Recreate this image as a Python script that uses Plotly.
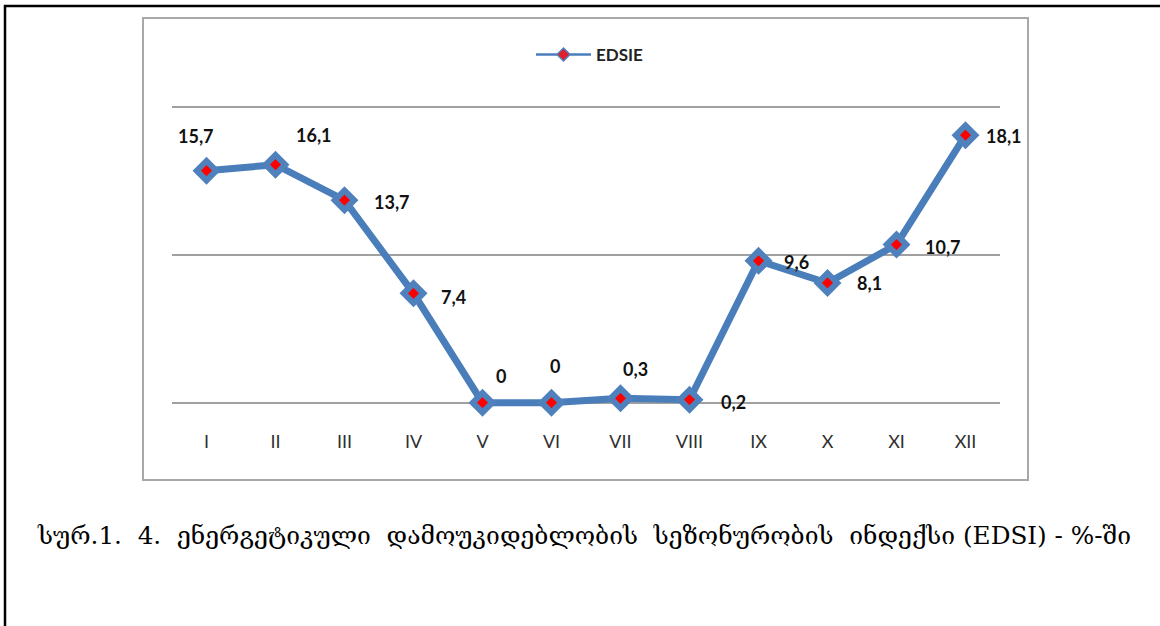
import plotly.graph_objects as go

months = ["I", "II", "III", "IV", "V", "VI", "VII", "VIII", "IX", "X", "XI", "XII"]
edsie = [15.7, 16.1, 13.7, 7.4, 0, 0, 0.3, 0.2, 9.6, 8.1, 10.7, 18.1]
labels = ["15,7", "16,1", "13,7", "7,4", "0", "0", "0,3", "0,2", "9,6", "8,1", "10,7", "18,1"]
series_name = "EDSIE"
caption = "სურ.1.  4.  ენერგეტიკული  დამოუკიდებლობის  სეზონურობის  ინდექსი (EDSI) - %-ში"

# label offsets in pixels (style)
label_dx = [-11, 38, 47, 40, 18, 3, 15, 44, 38, 42, 46, 38]
label_dy = [35, 30, -2, -4, 27, 37, 29, -2, -1, 0, -2, -1]

W, H = 1160, 626
px = lambda x: x / W
py = lambda y: 1 - y / H

BLUE = "#4F81BD"
PPU = 14.78  # pixels per unit
Y0 = 402.7   # pixel row of value 0

fig = go.Figure()
fig.add_trace(go.Scatter(
    x=months, y=edsie, mode="lines+markers", name=series_name, showlegend=False,
    line=dict(color="#4A7EBB", width=7),
    marker=dict(symbol="diamond", size=15, color="#FF0000",
                line=dict(color=BLUE, width=6)),
    cliponaxis=False,
))
# legend entry (no data of its own)
fig.add_trace(go.Scatter(
    x=[None], y=[None], mode="lines+markers", name=series_name, showlegend=True,
    line=dict(color="#4A7EBB", width=2.5),
    marker=dict(symbol="diamond", size=10, color="#E0202A",
                line=dict(color=BLUE, width=1.5)),
))

for m, v, t, dx, dy in zip(months, edsie, labels, label_dx, label_dy):
    fig.add_annotation(x=m, y=v, text=t, showarrow=False, xshift=dx, yshift=dy,
                       font=dict(family="Lato", size=18, color="#111111", weight="bold"))

ymin, ymax = -1.5, 21
top_px = Y0 - ymax * PPU
bot_px = Y0 - ymin * PPU

fig.update_layout(
    width=W, height=H,
    margin=dict(l=0, r=0, t=0, b=0),
    paper_bgcolor="white", plot_bgcolor="white",
    showlegend=True,
    legend=dict(orientation="h", x=px(531), y=py(55), xanchor="left", yanchor="middle",
                itemwidth=55,
                font=dict(family="Lato", size=17, color="#222222", weight="bold"),
                bgcolor="rgba(0,0,0,0)"),
    xaxis=dict(domain=[px(172), px(1000)], range=[-0.5, 11.5], showgrid=False,
               showline=False, zeroline=False, ticks="", ticklabelstandoff=4,
               tickfont=dict(family="Lato", size=18, color="#303030")),
    yaxis=dict(domain=[py(bot_px), py(top_px)], range=[ymin, ymax],
               tickvals=[0, 10, 20], showticklabels=False, showgrid=True,
               gridcolor="#A0A0A0", gridwidth=1.5, zeroline=False, showline=False),
    shapes=[
        dict(type="rect", xref="paper", yref="paper", x0=px(5), x1=px(1175), y0=py(650), y1=py(6),
             line=dict(color="black", width=2.5), layer="below"),
        dict(type="rect", xref="paper", yref="paper", x0=px(143), x1=px(1028), y0=py(480), y1=py(18),
             line=dict(color="#A8A8A8", width=2), layer="below"),
    ],
)

fig.add_annotation(xref="paper", yref="paper", x=px(35), y=py(535), xanchor="left", yanchor="middle",
                   text=caption, showarrow=False,
                   font=dict(family="DejaVu Serif", size=24.7, color="black"))

fig.write_html("out.html", config={"displayModeBar": False},
               post_script="document.body.style.margin='0px';")
